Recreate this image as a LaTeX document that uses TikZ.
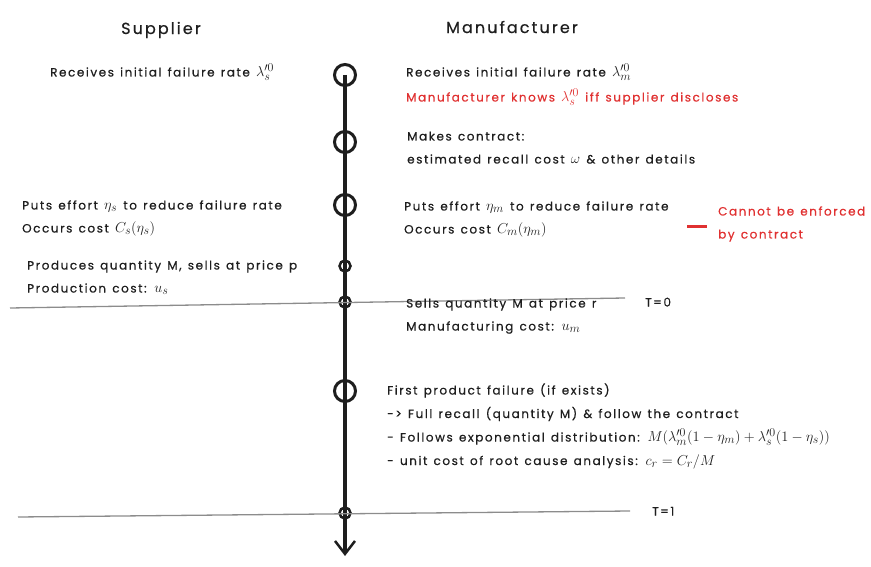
\documentclass[tikz,border=0pt]{standalone}
\usepackage{amsmath}
\usepackage{fontspec}
\setmainfont{Poppins}[LetterSpace=13, WordSpace=1.3, FakeBold=0.6]
\DeclareMathSizes{12}{15.5}{11.5}{9}
\usetikzlibrary{arrows.meta, positioning}
\definecolor{cink}{HTML}{1E1E1E}
\definecolor{cred}{HTML}{E03131}
\definecolor{cline}{HTML}{8C8C8C}

\begin{document}
\begin{tikzpicture}[x=1pt, y=-1pt, font=\fontsize{12}{14}\selectfont,
  lbl/.style={anchor=base west, inner sep=0pt, text=cink},
  nxt/.style={lbl, yshift=-23pt},
  head/.style={font=\fontsize{16}{18}\selectfont, text=cink},
  evt/.style={circle, draw=cink, line width=3pt, minimum size=21pt, inner sep=0pt},
  tick/.style={circle, draw=cink, line width=2.5pt, minimum size=11pt, inner sep=0pt}]
  \useasboundingbox (0,0) rectangle (871,567);

  % Headings
  \node[head] (supp) at (161,30) {Supplier};
  \node[head] (manu) at (512,27) {Manufacturer};

  % Events on the time line
  \foreach \n/\y in {ev1/75, ev2/142, ev3/205, ev6/391}{
    \node[evt] (\n) at (345,\y) {};
  }
  \foreach \n/\y in {ev4/266, ev5/302, ev7/513}{
    \node[tick] (\n) at (345,\y) {};
  }
  \coordinate (tip) at (345,556);
  \draw[cink, line width=3.5pt, -{Straight Barb[length=13pt, width=20pt, line width=2.5pt]}] (ev1.center) -- (tip);

  % Period boundaries
  \coordinate (t0w) at (10,308);
  \coordinate (t0e) at (625,298);
  \coordinate (t1w) at (18,517);
  \coordinate (t1e) at (630,511);
  \draw[cline, line width=1.3pt] (t0w) -- (t0e);
  \draw[cline, line width=1.3pt] (t1w) -- (t1e);
  \node[lbl] (tzero) at (645,306.5) {T=0};
  \node[lbl] (tone) at (652,515.5) {T=1};

  % Supplier side
  \node[lbl] (sup1) at (50,76.5) {Receives initial failure rate $\lambda_s^{\prime 0}$};
  \node[lbl] (sup2) at (22,209.5) {Puts effort $\eta_s$ to reduce failure rate};
  \node[nxt] (sup2b) at (sup2.base west) {Occurs cost $C_s(\eta_s)$};
  \node[lbl] (sup3) at (27,269.5) {Produces quantity M, sells at price p};
  \node[nxt] (sup3b) at (sup3.base west) {Production cost: $u_s$};

  % Manufacturer side
  \node[lbl] (man1) at (406,76.5) {Receives initial failure rate $\lambda_m^{\prime 0}$};
  \node[lbl, text=cred, yshift=-25pt] (know) at (man1.base west) {Manufacturer knows $\lambda_s^{\prime 0}$ iff supplier discloses};
  \node[lbl] (man2) at (407,140.5) {Makes contract:};
  \node[nxt] (man2b) at (man2.base west) {estimated recall cost $\omega$ \& other details};
  \node[lbl] (man3) at (404,210.5) {Puts effort $\eta_m$ to reduce failure rate};
  \node[nxt] (man3b) at (man3.base west) {Occurs cost $C_m(\eta_m)$};
  \node[lbl] (man4) at (406,307.5) {Sells quantity M at price r};
  \node[nxt] (man4b) at (man4.base west) {Manufacturing cost: $u_m$};
  \node[lbl] (man5) at (387,394.5) {First product failure (if exists)};
  \node[nxt, yshift=-0.5pt] (man5b) at (man5.base west) {-> Full recall (quantity M) \& follow the contract};
  \node[nxt, yshift=-0.5pt] (man5c) at (man5b.base west) {- Follows exponential distribution: $M(\lambda_m^{\prime 0}(1-\eta_m)+\lambda_s^{\prime 0}(1-\eta_s))$};
  \node[nxt, yshift=-0.5pt] (man5d) at (man5c.base west) {- unit cost of root cause analysis: $c_r=C_r/M$};

  % Note
  \node[lbl, text=cred] (enf) at (718,215.5) {Cannot be enforced};
  \node[nxt, text=cred] (enfb) at (enf.base west) {by contract};
  \draw[cred, line width=3pt] ([xshift=-31pt, yshift=-11pt]enf.base west) -- ([xshift=-11pt, yshift=-11pt]enf.base west);
\end{tikzpicture}
\end{document}
